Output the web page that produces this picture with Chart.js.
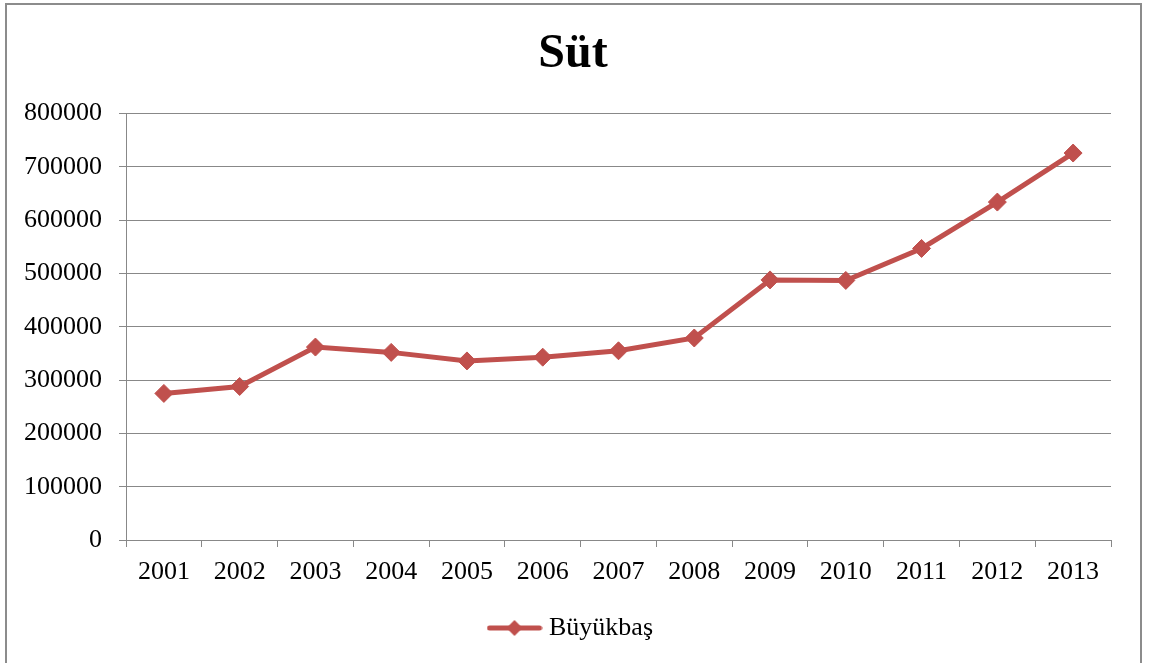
<!DOCTYPE html>
<html>
<head>
<meta charset="utf-8">
<script src="https://cdn.jsdelivr.net/npm/chart.js@4.4.0/dist/chart.umd.min.js"></script>
<style>
  html, body { margin: 0; padding: 0; background: #fff; }
  #frame { position: absolute; left: 5px; top: 3px; width: 1133px; height: 680px; border: 2px solid #8c8c8c; }
  #wrap { position: absolute; left: 0; top: 0; width: 1150px; height: 663px; }
</style>
</head>
<body>
<div id="frame"></div>
<div id="wrap"><canvas id="lineChart"></canvas></div>
<script>
const years = ['2001', '2002', '2003', '2004', '2005', '2006', '2007',
  '2008', '2009', '2010', '2011', '2012', '2013'];
const buyukbas = [275000, 288000, 362000, 352000, 336000, 343000, 355000,
  379000, 488000, 487000, 547000, 634000, 726000];

const red = '#C0504D';
const grey = '#888888';
const serif = "'Liberation Serif', 'Times New Roman', serif";

// legend marker: line with a diamond in the middle
const marker = document.createElement('canvas');
marker.width = 56;
marker.height = 20;
const mctx = marker.getContext('2d');
mctx.strokeStyle = red;
mctx.lineWidth = 5;
mctx.lineCap = 'round';
mctx.beginPath();
mctx.moveTo(3, 10);
mctx.lineTo(53, 10);
mctx.stroke();
mctx.fillStyle = red;
mctx.beginPath();
mctx.moveTo(28, 2);
mctx.lineTo(36, 10);
mctx.lineTo(28, 18);
mctx.lineTo(20, 10);
mctx.closePath();
mctx.fill();

const ctx = document.getElementById('lineChart');
new Chart(ctx, {
  type: 'line',
  data: {
    labels: years,
    datasets: [{
      label: 'Büyükbaş',
      data: buyukbas,
      borderColor: red,
      backgroundColor: red,
      borderWidth: 5,
      tension: 0,
      pointStyle: 'rectRot',
      pointRadius: 9,
      pointBorderWidth: 1,
      pointBackgroundColor: red,
      pointBorderColor: red
    }]
  },
  options: {
    responsive: true,
    maintainAspectRatio: false,
    animation: false,
    layout: { padding: { top: 0, right: 4, bottom: 12, left: 0 } },
    plugins: {
      title: {
        display: true,
        text: 'Süt',
        color: '#000',
        font: { family: serif, size: 48, weight: 'bold' },
        padding: { top: 26, bottom: 30 }
      },
      legend: {
        position: 'bottom',
        labels: {
          usePointStyle: true,
          pointStyleWidth: 43,
          color: '#000',
          font: { family: serif, size: 26 },
          generateLabels: chart => [{
            text: 'Büyükbaş',
            pointStyle: marker,
            fillStyle: red,
            strokeStyle: red,
            lineWidth: 0,
            datasetIndex: 0
          }]
        }
      },
      tooltip: { enabled: false }
    },
    scales: {
      x: {
        offset: true,
        afterFit: s => { s.height = 65; },
        grid: { offset: true, drawOnChartArea: false, tickLength: 7, color: grey },
        border: { color: grey, width: 1 },
        ticks: { color: '#000', padding: 10, font: { family: serif, size: 26 } }
      },
      y: {
        min: 0,
        max: 800000,
        afterFit: s => { s.width = 126; },
        grid: { color: grey, tickLength: 7 },
        border: { color: grey, width: 1 },
        ticks: {
          stepSize: 100000,
          color: '#000',
          padding: 17,
          font: { family: serif, size: 26 },
          callback: v => String(v)
        }
      },
      // empty right-hand spacer so the title and legend centre like the reference
      yRight: {
        position: 'right',
        min: 0,
        max: 1,
        afterFit: s => { s.width = 35; },
        grid: { display: false },
        border: { display: false },
        ticks: { display: false }
      }
    }
  }
});
</script>
</body>
</html>
